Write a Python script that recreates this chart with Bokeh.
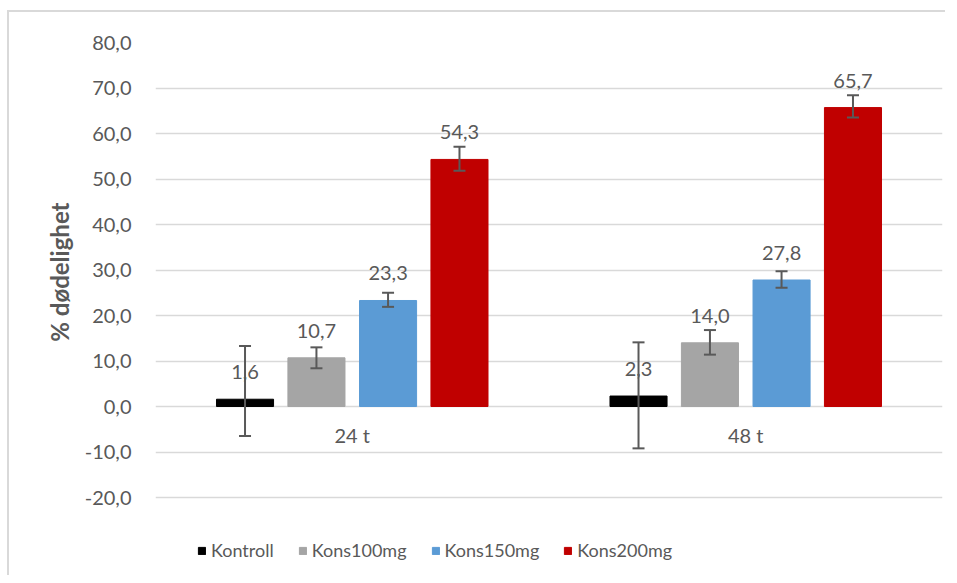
from bokeh.plotting import figure
from bokeh.models import (ColumnDataSource, FactorRange, Range1d, Whisker, TeeHead,
                          Legend, LegendItem, FixedTicker, Title)
from bokeh.transform import dodge
from bokeh.core.properties import value
from bokeh.embed import file_html
from bokeh.resources import INLINE

# ---- data ----
groups = ["24 t", "48 t"]
series = ["Kontroll", "Kons100mg", "Kons150mg", "Kons200mg"]
colors = ["#000000", "#A5A5A5", "#5B9BD5", "#C00000"]

kontroll = [1.6, 2.3]
kons100 = [10.7, 14.0]
kons150 = [23.3, 27.8]
kons200 = [54.3, 65.7]

kontroll_hi = [13.3, 14.1]
kontroll_lo = [-6.5, -9.2]
kons100_hi = [13.0, 16.8]
kons100_lo = [8.4, 11.4]
kons150_hi = [25.0, 29.7]
kons150_lo = [21.9, 26.1]
kons200_hi = [57.1, 68.4]
kons200_lo = [51.8, 63.5]

y_ticks = [-20, -10, 0, 10, 20, 30, 40, 50, 60, 70, 80]
y_tick_labels = ["-20,0", "-10,0", "0,0", "10,0", "20,0", "30,0", "40,0",
                 "50,0", "60,0", "70,0", "80,0"]
y_title = "% dødelighet"

values = [kontroll, kons100, kons150, kons200]
highs = [kontroll_hi, kons100_hi, kons150_hi, kons200_hi]
lows = [kontroll_lo, kons100_lo, kons150_lo, kons200_lo]

FONT = value("Lato")
TXT = "#595959"

# layout: the value axis spans -20..80 over 455 px; the frame continues below
# -20 (invisibly) so that the legend can sit inside it
W, H = 938, 565
TOP, BOTTOM, LEFT, RIGHT = 30, 2, 146, 5
frame_h = H - TOP - BOTTOM
px_per_unit = 4.55
y_end = 80
y_start = y_end - frame_h / px_per_unit

p = figure(x_range=FactorRange(*groups, range_padding=0), y_range=Range1d(y_start, y_end),
           width=W, height=H, output_backend="svg", toolbar_location=None,
           min_border_left=LEFT, min_border_right=RIGHT, min_border_top=TOP,
           min_border_bottom=BOTTOM)
p.styles = {"border-left": "2px solid #d9d9d9", "border-top": "2px solid #d9d9d9",
            "margin-top": "10px", "margin-left": "7px"}
p.outline_line_color = None
p.background_fill_color = "white"
p.border_fill_color = "white"

p.xgrid.visible = False
p.ygrid.ticker = FixedTicker(ticks=y_ticks)
p.ygrid.grid_line_color = "#d9d9d9"
p.ygrid.grid_line_width = 1.5

p.xaxis.visible = False
ax = p.yaxis[0]
ax.ticker = FixedTicker(ticks=y_ticks)
ax.major_label_overrides = {t: l for t, l in zip(y_ticks, y_tick_labels)}
ax.axis_line_color = None
ax.major_tick_line_color = None
ax.minor_tick_line_color = None
ax.major_label_standoff = 18
ax.major_label_text_font = "Lato"
ax.major_label_text_font_size = "20px"
ax.major_label_text_color = TXT

# axis title: its end is placed 'offset' px below the top of the frame
p.add_layout(Title(text=y_title, align="right", offset=160,
                   vertical_align="middle", text_font="Lato", text_font_size="24px",
                   text_font_style="bold", text_color=TXT, standoff=13), "left")

offsets = [-0.2725, -0.091, 0.091, 0.2725]
bar_w = 0.145
items = []
for name, col, vals, hi, lo, off in zip(series, colors, values, highs, lows, offsets):
    src = ColumnDataSource(dict(
        x=groups, top=vals, hi=hi, lo=lo,
        lab=[f"{v:.1f}".replace(".", ",") for v in vals]))
    r = p.vbar(x=dodge("x", off, range=p.x_range), top="top", bottom=0, width=bar_w,
               source=src, fill_color=col, line_color=col)
    items.append(LegendItem(label=name, renderers=[r]))
    p.text(x=dodge("x", off, range=p.x_range), y="top", text="lab", source=src,
           text_align="center", text_baseline="alphabetic", y_offset=-27,
           text_font=FONT, text_font_size="20px", text_color=TXT)
    w = Whisker(source=src, base=dodge("x", off, range=p.x_range), upper="hi", lower="lo",
                line_color="#595959", line_width=2, level="overlay",
                upper_head=TeeHead(size=12, line_color="#595959", line_width=2),
                lower_head=TeeHead(size=12, line_color="#595959", line_width=2))
    p.add_layout(w)

# category labels placed at the zero line
p.text(x=groups, y=[0, 0], text=groups, text_align="center", text_baseline="alphabetic",
       y_offset=28, text_font=FONT, text_font_size="20px", text_color=TXT)

legend = Legend(items=items, orientation="horizontal", location=(42, 14),
                label_text_font="Lato", label_text_font_size="18px",
                label_text_color=TXT, glyph_width=9, glyph_height=9,
                label_standoff=5, spacing=24, padding=0, margin=0,
                border_line_color=None, background_fill_alpha=0)
p.add_layout(legend)

open("out.html", "w").write(file_html(p, INLINE))
